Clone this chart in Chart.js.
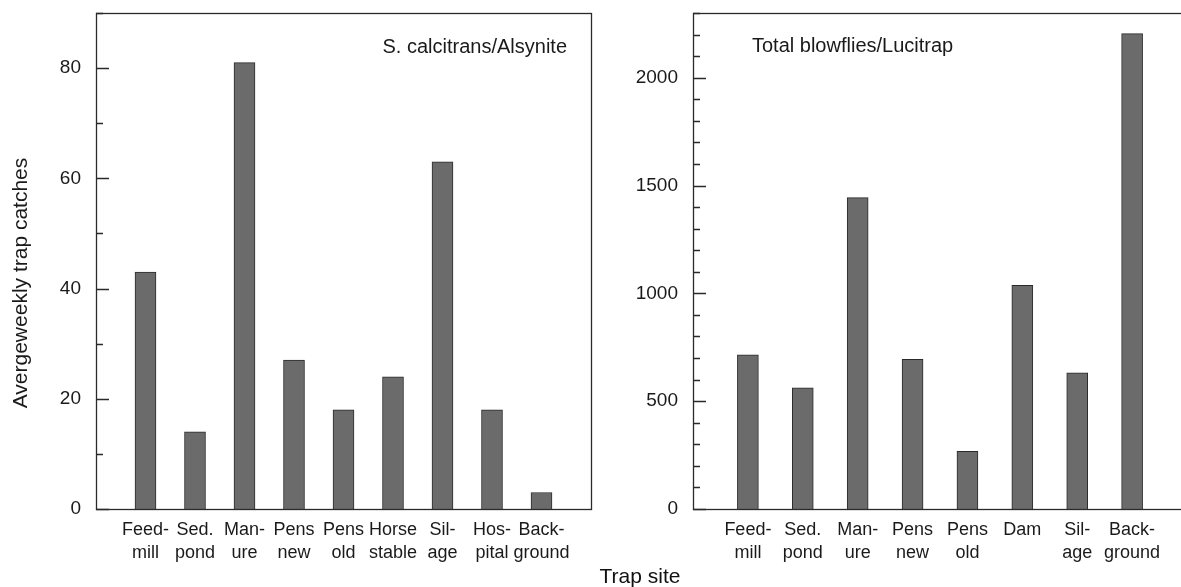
<!DOCTYPE html>
<html>
<head>
<meta charset="utf-8">
<script src="https://cdn.jsdelivr.net/npm/chart.js@4.4.1/dist/chart.umd.min.js"></script>
<style>
  html, body { margin: 0; padding: 0; background: #fff; overflow: hidden; }
  #wrap { position: relative; width: 1181px; height: 587px; overflow: hidden; }
  canvas { position: absolute; top: 0; }
  #cLeft { left: 0; }
  #cRight { left: 600px; }
  #xTitle {
    position: absolute; left: 540px; width: 200px; top: 563px;
    text-align: center; font: 21px "Liberation Sans", Arial, sans-serif;
    line-height: 26px; color: #111;
  }
</style>
</head>
<body>
<div id="wrap">
  <canvas id="cLeft" width="600" height="587"></canvas>
  <canvas id="cRight" width="600" height="587"></canvas>
  <div id="xTitle">Trap site</div>
</div>
<script>
// Trap sites and average weekly catches, two panels
const leftSites = [["Feed-", "mill"], ["Sed.", "pond"], ["Man-", "ure"], ["Pens", "new"], ["Pens", "old"],
                   ["Horse", "stable"], ["Sil-", "age"], ["Hos-", "pital"], ["Back-", "ground"]];
const leftCatches = [43, 14, 81, 27, 18, 24, 63, 18, 3];     // S. calcitrans / Alsynite

const rightSites = [["Feed-", "mill"], ["Sed.", "pond"], ["Man-", "ure"], ["Pens", "new"], ["Pens", "old"],
                    "Dam", ["Sil-", "age"], ["Back-", "ground"]];
const rightCatches = [715, 562, 1444, 694, 268, 1037, 631, 2204]; // Total blowflies / Lucitrap

const leftAxisMax = 90, leftStep = 10, leftLabelEvery = 20;
const rightAxisMax = 2300, rightStep = 100, rightLabelEvery = 500;

const FONT = '"Liberation Sans", Arial, sans-serif';
const INK = "#1a1a1a";

// empty slot at each end so bars sit at 1..n on an axis running 0..n+1
const pad = (arr, fill) => [fill, ...arr, fill];

// frame + inward tick marks (major long, minor short) + free texts
const frameTicks = {
  id: "frameTicks",
  afterDatasetsDraw(chart, args, opts) {
    const { ctx, chartArea: a } = chart;
    const y = chart.scales.y;
    ctx.save();
    ctx.strokeStyle = "#2a2a2a";
    ctx.lineWidth = 1.3;
    ctx.beginPath();
    y.ticks.forEach(t => {
      const py = Math.round(y.getPixelForValue(t.value)) + 0.5;
      const len = t.value % opts.major === 0 ? 13 : 7;
      ctx.moveTo(a.left, py);
      ctx.lineTo(a.left + len, py);
    });
    ctx.stroke();
    ctx.strokeRect(Math.round(a.left) + 0.5, Math.round(a.top) + 0.5,
                   Math.round(a.right - a.left), Math.round(a.bottom - a.top));

    ctx.fillStyle = INK;
    (opts.texts || []).forEach(tx => {
      ctx.save();
      ctx.font = tx.size + "px " + FONT;
      ctx.textAlign = tx.align;
      ctx.textBaseline = "middle";
      ctx.translate(tx.x, tx.y);
      if (tx.rotate) ctx.rotate(-Math.PI / 2);
      ctx.fillText(tx.text, 0, 0);
      ctx.restore();
    });
    ctx.restore();
  }
};

function makePanel(canvasId, sites, values, maxY, step, labelEvery, yWidth, padRight, texts) {
  return new Chart(document.getElementById(canvasId), {
    type: "bar",
    data: {
      labels: pad(sites, ""),
      datasets: [{
        data: pad(values, null),
        backgroundColor: "#6b6b6b",
        borderColor: "#2a2a2a",
        borderWidth: 1,
        barThickness: 21
      }]
    },
    options: {
      responsive: false,
      animation: false,
      layout: { padding: { left: 0, right: padRight, top: 13, bottom: 0 } },
      plugins: {
        legend: { display: false },
        tooltip: { enabled: false },
        frameTicks: { major: labelEvery, texts: texts }
      },
      scales: {
        x: {
          offset: false,
          grid: { display: false, drawTicks: false },
          border: { display: false },
          ticks: {
            autoSkip: false, maxRotation: 0, padding: 10, color: INK,
            font: { family: FONT, size: 18, lineHeight: 1.25 }
          },
          afterFit(s) { s.height = 78; s.paddingLeft = 0; s.paddingRight = 0; }
        },
        y: {
          min: 0, max: maxY,
          grid: { display: false, drawTicks: false },
          border: { display: false },
          ticks: {
            stepSize: step, autoSkip: false, padding: 15, color: INK,
            font: { family: FONT, size: 19 },
            callback: v => (v % labelEvery === 0 ? v : "")
          },
          afterFit(s) { s.width = yWidth; s.paddingTop = 0; s.paddingBottom = 0; }
        }
      }
    },
    plugins: [frameTicks]
  });
}

makePanel("cLeft", leftSites, leftCatches, leftAxisMax, leftStep, leftLabelEvery, 96, 9, [
  { text: "S. calcitrans/Alsynite", x: 567, y: 47, size: 20, align: "right" },
  { text: "Avergeweekly trap catches", x: 21, y: 283, size: 21, align: "center", rotate: true }
]);

makePanel("cRight", rightSites, rightCatches, rightAxisMax, rightStep, rightLabelEvery, 93, 13, [
  { text: "Total blowflies/Lucitrap", x: 152, y: 46, size: 20, align: "left" }
]);
</script>
</body>
</html>
